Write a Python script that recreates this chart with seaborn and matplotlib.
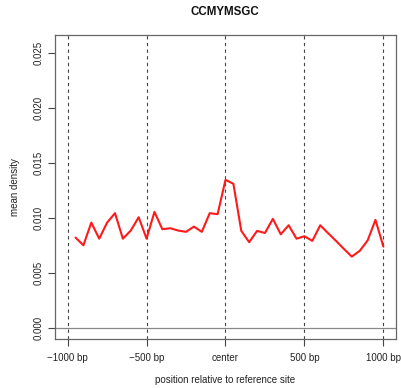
import matplotlib
matplotlib.use("Agg")
import matplotlib.pyplot as plt
import seaborn as sns
import pandas as pd
import numpy as np

title = "CCMYMSGC"
positions = [-950, -900, -850, -800, -750, -700, -650, -600, -550, -500,
             -450, -400, -350, -300, -250, -200, -150, -100, -50, 0,
             50, 100, 150, 200, 250, 300, 350, 400, 450, 500,
             550, 600, 650, 700, 750, 800, 850, 900, 950, 1000]
density = [0.00820, 0.00750, 0.00956, 0.00810, 0.00956, 0.01042, 0.00810, 0.00884, 0.01005, 0.00810,
           0.01054, 0.00896, 0.00905, 0.00884, 0.00872, 0.00920, 0.00872, 0.01042, 0.01033, 0.01345,
           0.01309, 0.00881, 0.00778, 0.00881, 0.00862, 0.00990, 0.00850, 0.00932, 0.00810, 0.00832,
           0.00790, 0.00932, 0.00860, 0.00790, 0.00717, 0.00647, 0.00699, 0.00793, 0.00981, 0.00738]
vlines = [-1000, -500, 0, 500, 1000]
xtick_labels = ["\u22121000 bp", "\u2212500 bp", "center", "500 bp", "1000 bp"]
yticks = [0.000, 0.005, 0.010, 0.015, 0.020, 0.025]
ytick_labels = ["0.000", "0.005", "0.010", "0.015", "0.020", "0.025"]

sns.set_style("white")
plt.rcParams['font.family'] = ['Liberation Sans', 'DejaVu Sans']

df = pd.DataFrame({"pos": positions, "density": density})

fig = plt.figure(figsize=(4.02, 3.88), dpi=100)
ax = fig.add_axes([55/402, 1 - 339/388, (396-55)/402, (339-35)/388])

for v in vlines:
    ax.axvline(v, color="#444444", lw=0.8, ls=(0, (3, 3)), zorder=1)
ax.axhline(0, color="#888888", lw=0.9, zorder=1)

sns.lineplot(data=df, x="pos", y="density", ax=ax, color="#ff1a1a", lw=1.5, zorder=3)

ax.set_xlim(-1080, 1080)
ax.set_ylim(-0.001024, 0.026624)
ax.set_xticks(vlines)
ax.set_xticklabels(xtick_labels, fontsize=7, color="#222222")
ax.set_yticks(yticks)
ax.set_yticklabels(ytick_labels, fontsize=7, rotation=90, va="center", color="#222222")
ax.tick_params(axis="x", direction="out", length=5, width=0.8, color="#444444", pad=5, bottom=True)
ax.tick_params(axis="y", direction="out", length=5, width=0.8, color="#444444", pad=3, left=True)

for s in ax.spines.values():
    s.set_color("#666666")
    s.set_linewidth(0.9)

ax.set_xlabel("")
ax.set_ylabel("")
fig.text(225/402, 1 - 380/388, "position relative to reference site", fontsize=7,
         ha="center", va="center", color="#222222")
fig.text(15/402, 1 - 187/388, "mean density", fontsize=7, rotation=90,
         ha="center", va="center", color="#222222")
fig.text(225/402, 1 - 12/388, title, fontsize=8.3, fontweight="bold",
         ha="center", va="center", color="#111111")

fig.savefig("out.png", dpi=100)
